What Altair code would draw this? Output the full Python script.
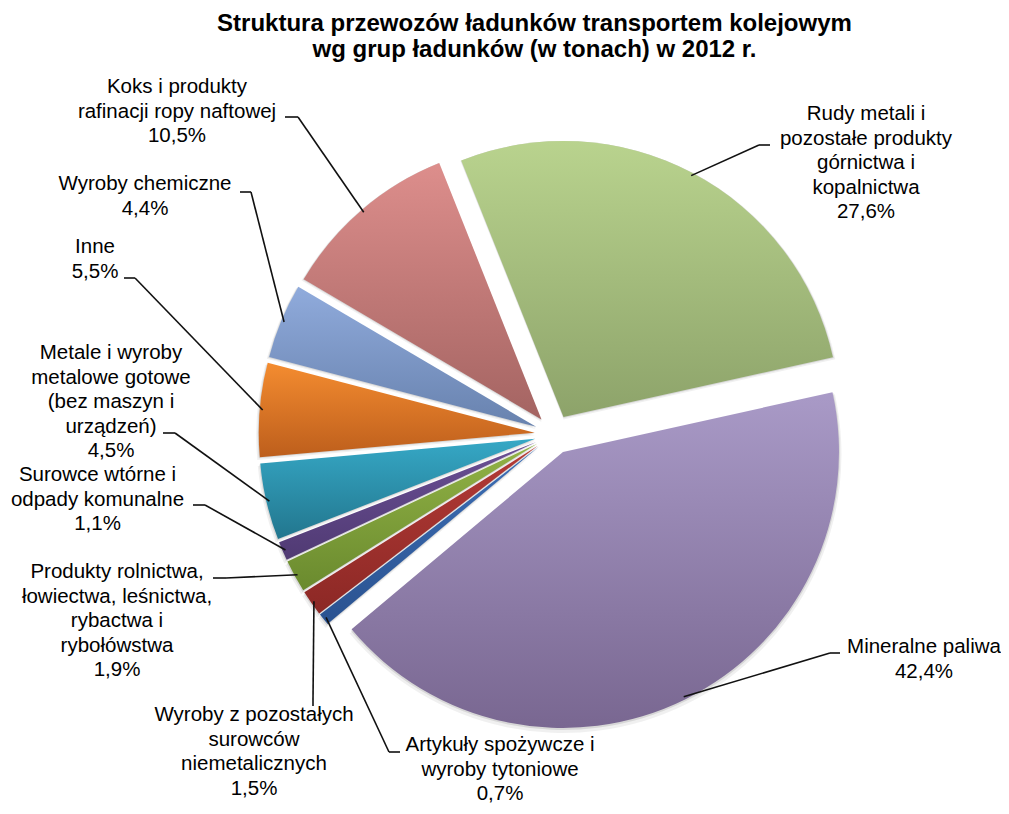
import altair as alt
import pandas as pd

# ---------------- data ----------------
categories = [
    "Artykuły spożywcze i wyroby tytoniowe",
    "Wyroby z pozostałych surowców niemetalicznych",
    "Produkty rolnictwa, łowiectwa, leśnictwa, rybactwa i rybołówstwa",
    "Surowce wtórne i odpady komunalne",
    "Metale i wyroby metalowe gotowe (bez maszyn i urządzeń)",
    "Inne",
    "Wyroby chemiczne",
    "Koks i produkty rafinacji ropy naftowej",
    "Rudy metali i pozostałe produkty górnictwa i kopalnictwa",
    "Mineralne paliwa",
]
label_text = [
    "Artykuły spożywcze i\nwyroby tytoniowe",
    "Wyroby z pozostałych\nsurowców\nniemetalicznych",
    "Produkty rolnictwa,\nłowiectwa, leśnictwa,\nrybactwa i\nrybołówstwa",
    "Surowce wtórne i\nodpady komunalne",
    "Metale i wyroby\nmetalowe gotowe\n(bez maszyn i\nurządzeń)",
    "Inne",
    "Wyroby chemiczne",
    "Koks i produkty\nrafinacji ropy naftowej",
    "Rudy metali i\npozostałe produkty\ngórnictwa i\nkopalnictwa",
    "Mineralne paliwa",
]
shares = [0.7, 1.5, 1.9, 1.1, 4.5, 5.5, 4.4, 10.5, 27.6, 42.4]
title_lines = [
    "Struktura przewozów ładunków transportem kolejowym",
    "wg grup ładunków (w tonach) w 2012 r.",
]

# ---------------- styles ----------------
color_top = ["#3d6fb6", "#b43b37", "#92b346", "#6b5096", "#36a8c6",
             "#f48c30", "#90abdc", "#dd8e8c", "#b9d38e", "#a99ac7"]
color_bottom = ["#2a5290", "#8c2825", "#6a8a2e", "#503a73", "#22768e",
                "#bd5e1c", "#6882ae", "#a46462", "#8da36a", "#796791"]

# ---------------- layout (page pixels) ----------------
M = 8  # page margin
label_x = [500, 254, 117, 97.5, 111, 95, 145, 177, 866, 924]
label_y = [745, 715, 572, 475, 353, 247, 184, 87, 114, 647]   # first line
stub_x0 = [400, 313, 213, 193, 163, 124, 240, 285, 770, 840]
stub_y0 = [752, 706, 578, 505, 433, 278, 192, 117, 145, 653]
stub_x1 = [389, 313, 226, 205, 175, 135, 251, 298, 759, 830]
stub_y1 = [752, 700, 578, 505, 433, 278, 192, 117, 145, 653]

CX, CY = 554.3 - M, 434.3 - M
R = 276
EXPLODE = 19.65
LEADER_R = 273
START = 230 * 3.141592653589793 / 180
TWO_PI = 2 * 3.141592653589793
FONT = "Liberation Sans"

df = pd.DataFrame({
    "idx": list(range(len(categories))),
    "category": categories,
    "label": label_text,
    "share": shares,
    "tx": [v - M for v in label_x],
    "ty": [v - M for v in label_y],
    "sx0": [v - M for v in stub_x0],
    "sy0": [v - M for v in stub_y0],
    "sx1": [v - M for v in stub_x1],
    "sy1": [v - M for v in stub_y1],
})

base = (
    alt.Chart(df)
    .transform_joinaggregate(total="sum(share)")
    .transform_window(cum="sum(share)", sort=[alt.SortField("idx")], frame=[None, 0])
    .transform_calculate(
        f0="(datum.cum - datum.share) / datum.total",
        f1="datum.cum / datum.total",
        mid=f"{START} + {TWO_PI} * (datum.cum - datum.share / 2) / datum.total",
        cx=f"{CX} + {EXPLODE} * sin(datum.mid)",
        cy=f"{CY} - {EXPLODE} * cos(datum.mid)",
        cy_s1="datum.cy + 1",
        cy_s2="datum.cy + 2.5",
        lx=f"datum.cx + {LEADER_R} * sin(datum.mid)",
        ly=f"datum.cy - {LEADER_R} * cos(datum.mid)",
        pct="replace(format(datum.share, '.1f'), '.', ',') + '%'",
        txt="datum.label + '\\n' + datum.pct",
    )
)

theta_scale = alt.Scale(domain=[0, 1], range=[START, START + TWO_PI])
theta = alt.Theta("f0:Q", scale=theta_scale)
theta2 = alt.Theta2("f1")
xc = alt.X("cx:Q", scale=None, axis=None)


def grad(top, bottom):
    return alt.Gradient(
        gradient="linear",
        stops=[alt.GradientStop(color=top, offset=0),
               alt.GradientStop(color=bottom, offset=1)],
        x1=0, x2=0, y1=0, y2=1,
    )


layers = []
# soft shadow
layers.append(base.mark_arc(radius=R + 2.5, color="#000000", opacity=0.06).encode(
    theta=theta, theta2=theta2, x=xc, y=alt.Y("cy_s2:Q", scale=None, axis=None)))
layers.append(base.mark_arc(radius=R + 1, color="#000000", opacity=0.10).encode(
    theta=theta, theta2=theta2, x=xc, y=alt.Y("cy_s1:Q", scale=None, axis=None)))

# slices, each with its own gradient
for i in range(len(categories)):
    layers.append(
        base.transform_filter(alt.datum.idx == i)
        .mark_arc(radius=R, fill=grad(color_top[i], color_bottom[i]))
        .encode(theta=theta, theta2=theta2, x=xc,
                y=alt.Y("cy:Q", scale=None, axis=None),
                tooltip=["category:N", "share:Q"])
    )

# leader lines
layers.append(base.mark_rule(color="#111111", strokeWidth=1.6).encode(
    x=alt.X("sx0:Q", scale=None, axis=None), y=alt.Y("sy0:Q", scale=None, axis=None),
    x2="sx1:Q", y2="sy1:Q"))
layers.append(base.mark_rule(color="#111111", strokeWidth=1.6).encode(
    x=alt.X("sx1:Q", scale=None, axis=None), y=alt.Y("sy1:Q", scale=None, axis=None),
    x2="lx:Q", y2="ly:Q"))

# labels
layers.append(base.mark_text(font=FONT, fontSize=20.5, lineHeight=24.5, lineBreak="\n",
                             align="center", baseline="middle", color="#000000").encode(
    x=alt.X("tx:Q", scale=None, axis=None), y=alt.Y("ty:Q", scale=None, axis=None),
    text="txt:N"))

# title
title_df = pd.DataFrame({"t": title_lines, "row": list(range(len(title_lines)))})
title = (
    alt.Chart(title_df)
    .transform_calculate(tyy=f"{31 - M} + datum.row * 25.5", txx=f"{534.5 - M}")
    .mark_text(font=FONT, fontSize=24, fontWeight="bold", align="center",
               baseline="alphabetic", color="#000000")
    .encode(x=alt.X("txx:Q", scale=None, axis=None),
            y=alt.Y("tyy:Q", scale=None, axis=None), text="t:N")
)
layers.append(title)

chart = (
    alt.layer(*layers)
    .properties(width=1009 - 2 * M, height=814 - 2 * M, padding=0,
                autosize=alt.AutoSizeParams(type="none"))
    .configure_view(stroke=None)
)

chart.save("out.html", embed_options={"renderer": "svg", "actions": False})
